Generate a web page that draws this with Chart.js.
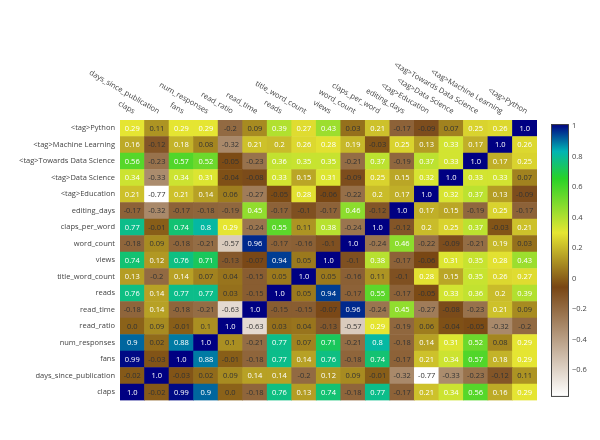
<!DOCTYPE html>
<html lang="en">
<head>
<meta charset="UTF-8">
<title>Correlation heatmap</title>
<script src="https://cdn.jsdelivr.net/npm/chart.js"></script>
<style>
  html, body { margin: 0; padding: 0; background: #fff; }
  #wrap { width: 600px; height: 440px; }
</style>
</head>
<body>
<div id="wrap"><canvas id="chart"></canvas></div>
<script>
// variables, same order on x (left to right) and y (bottom to top)
const variables = ["claps", "days_since_publication", "fans", "num_responses", "read_ratio",
  "read_time", "reads", "title_word_count", "views", "word_count", "claps_per_word",
  "editing_days", "<tag>Education", "<tag>Data Science", "<tag>Towards Data Science",
  "<tag>Machine Learning", "<tag>Python"];

// one row of the correlation matrix per variable
const claps          = [1.0, -0.02, 0.99, 0.9, 0.0, -0.18, 0.76, 0.13, 0.74, -0.18, 0.77, -0.17, 0.21, 0.34, 0.56, 0.16, 0.29];
const daysSincePub   = [-0.02, 1.0, -0.03, 0.02, 0.09, 0.14, 0.14, -0.2, 0.12, 0.09, -0.01, -0.32, -0.77, -0.33, -0.23, -0.12, 0.11];
const fans           = [0.99, -0.03, 1.0, 0.88, -0.01, -0.18, 0.77, 0.14, 0.76, -0.18, 0.74, -0.17, 0.21, 0.34, 0.57, 0.18, 0.29];
const numResponses   = [0.9, 0.02, 0.88, 1.0, 0.1, -0.21, 0.77, 0.07, 0.71, -0.21, 0.8, -0.18, 0.14, 0.31, 0.52, 0.08, 0.29];
const readRatio      = [0.0, 0.09, -0.01, 0.1, 1.0, -0.63, 0.03, 0.04, -0.13, -0.57, 0.29, -0.19, 0.06, -0.04, -0.05, -0.32, -0.2];
const readTime       = [-0.18, 0.14, -0.18, -0.21, -0.63, 1.0, -0.15, -0.15, -0.07, 0.96, -0.24, 0.45, -0.27, -0.08, -0.23, 0.21, 0.09];
const reads          = [0.76, 0.14, 0.77, 0.77, 0.03, -0.15, 1.0, 0.05, 0.94, -0.17, 0.55, -0.17, -0.05, 0.33, 0.36, 0.2, 0.39];
const titleWordCount = [0.13, -0.2, 0.14, 0.07, 0.04, -0.15, 0.05, 1.0, 0.05, -0.16, 0.11, -0.1, 0.28, 0.15, 0.35, 0.26, 0.27];
const views          = [0.74, 0.12, 0.76, 0.71, -0.13, -0.07, 0.94, 0.05, 1.0, -0.1, 0.38, -0.17, -0.06, 0.31, 0.35, 0.28, 0.43];
const wordCount      = [-0.18, 0.09, -0.18, -0.21, -0.57, 0.96, -0.17, -0.16, -0.1, 1.0, -0.24, 0.46, -0.22, -0.09, -0.21, 0.19, 0.03];
const clapsPerWord   = [0.77, -0.01, 0.74, 0.8, 0.29, -0.24, 0.55, 0.11, 0.38, -0.24, 1.0, -0.12, 0.2, 0.25, 0.37, -0.03, 0.21];
const editingDays    = [-0.17, -0.32, -0.17, -0.18, -0.19, 0.45, -0.17, -0.1, -0.17, 0.46, -0.12, 1.0, 0.17, 0.15, -0.19, 0.25, -0.17];
const tagEducation   = [0.21, -0.77, 0.21, 0.14, 0.06, -0.27, -0.05, 0.28, -0.06, -0.22, 0.2, 0.17, 1.0, 0.32, 0.37, 0.13, -0.09];
const tagDataScience = [0.34, -0.33, 0.34, 0.31, -0.04, -0.08, 0.33, 0.15, 0.31, -0.09, 0.25, 0.15, 0.32, 1.0, 0.33, 0.33, 0.07];
const tagTDS         = [0.56, -0.23, 0.57, 0.52, -0.05, -0.23, 0.36, 0.35, 0.35, -0.21, 0.37, -0.19, 0.37, 0.33, 1.0, 0.17, 0.25];
const tagML          = [0.16, -0.12, 0.18, 0.08, -0.32, 0.21, 0.2, 0.26, 0.28, 0.19, -0.03, 0.25, 0.13, 0.33, 0.17, 1.0, 0.26];
const tagPython      = [0.29, 0.11, 0.29, 0.29, -0.2, 0.09, 0.39, 0.27, 0.43, 0.03, 0.21, -0.17, -0.09, 0.07, 0.25, 0.26, 1.0];

const rows = [claps, daysSincePub, fans, numResponses, readRatio, readTime, reads, titleWordCount,
  views, wordCount, clapsPerWord, editingDays, tagEducation, tagDataScience, tagTDS, tagML, tagPython];

const colorbarTicks = [1, 0.8, 0.6, 0.4, 0.2, 0, -0.2, -0.4, -0.6];

// reversed "earth" scale: navy at the top value, white at the bottom
const earth = [[0, [0, 0, 130]], [0.1, [0, 180, 180]], [0.2, [40, 210, 40]],
  [0.4, [230, 230, 50]], [0.6, [120, 70, 20]], [1, [255, 255, 255]]];

const zmin = Math.min(...rows.flat());
const zmax = Math.max(...rows.flat());

function colorFor(v) {
  const s = 1 - (v - zmin) / (zmax - zmin);
  for (let k = 1; k < earth.length; k++) {
    if (s <= earth[k][0]) {
      const [s0, c0] = earth[k - 1], [s1, c1] = earth[k];
      const f = (s - s0) / (s1 - s0);
      const c = c0.map((a, n) => Math.round(a + (c1[n] - a) * f));
      return `rgb(${c[0]},${c[1]},${c[2]})`;
    }
  }
  return "rgb(255,255,255)";
}

function fmt(v) {
  return Number.isInteger(v) ? v.toFixed(1) : String(v);
}

const FONT = "'Open Sans', 'DejaVu Sans', sans-serif";

const cellText = {
  id: "cellText",
  afterDatasetsDraw(chart) {
    const ctx = chart.ctx;
    ctx.save();
    ctx.font = `7.5px ${FONT}`;
    ctx.textAlign = "center";
    ctx.textBaseline = "middle";
    rows.forEach((row, i) => {
      chart.getDatasetMeta(i).data.forEach((bar, j) => {
        const v = row[j];
        ctx.fillStyle = v > (zmin + zmax) / 2 ? "#ffffff" : "#333333";
        ctx.fillText(fmt(v), bar.x, (bar.y + bar.base) / 2 + 0.5);
      });
    });
    ctx.restore();
  }
};

const topLabels = {
  id: "topLabels",
  afterDraw(chart) {
    const ctx = chart.ctx, xs = chart.scales.x, top = chart.chartArea.top;
    ctx.save();
    ctx.font = `7.5px ${FONT}`;
    ctx.fillStyle = "#444";
    ctx.textAlign = "right";
    ctx.textBaseline = "middle";
    variables.forEach((name, j) => {
      ctx.save();
      ctx.translate(xs.getPixelForValue(j) + 2, top - 8);
      ctx.rotate(Math.PI / 6);
      ctx.fillText(name, 0, 0);
      ctx.restore();
    });
    ctx.restore();
  }
};

const colorbar = {
  id: "colorbar",
  afterDraw(chart) {
    const ctx = chart.ctx, cb = chart.scales.cb;
    const y0 = cb.getPixelForValue(zmax) - 2, y1 = cb.getPixelForValue(zmin);
    const x0 = cb.left + 14, w = 17;
    const g = ctx.createLinearGradient(0, y0, 0, y1);
    earth.forEach(([s, c]) => g.addColorStop(s, `rgb(${c[0]},${c[1]},${c[2]})`));
    ctx.save();
    ctx.fillStyle = g;
    ctx.fillRect(x0, y0, w, y1 - y0);
    ctx.strokeStyle = "#444";
    ctx.lineWidth = 1;
    ctx.strokeRect(x0 + 0.5, y0 + 0.5, w, y1 - y0);
    ctx.restore();
  }
};

new Chart(document.getElementById("chart"), {
  type: "bar",
  data: {
    labels: variables,
    datasets: rows.map((row, i) => ({
      label: variables[i],
      data: row.map(() => 1),
      backgroundColor: row.map(colorFor),
      borderWidth: 0,
      barPercentage: 1,
      categoryPercentage: 1
    }))
  },
  options: {
    responsive: true,
    maintainAspectRatio: false,
    animation: false,
    layout: { padding: { top: 120, bottom: 8, left: 0, right: 0 } },
    plugins: { legend: { display: false }, tooltip: { enabled: false } },
    scales: {
      x: { stacked: true, display: false },
      y: {
        stacked: true, min: 0, max: variables.length,
        grid: { display: false, drawTicks: false }, border: { display: false },
        afterBuildTicks: axis => { axis.ticks = variables.map((_, i) => ({ value: i + 0.5 })); },
        afterFit: axis => { axis.width = 120; },
        ticks: {
          padding: 5, color: "#444", font: { family: FONT, size: 7.5 },
          autoSkip: false,
          callback: v => variables[Math.floor(v)]
        }
      },
      cb: {
        type: "linear", position: "right", min: -0.8, max: 1.04,
        grid: { display: false, drawTicks: false }, border: { display: false },
        afterBuildTicks: axis => { axis.ticks = colorbarTicks.map(v => ({ value: v })); },
        afterFit: axis => { axis.width = 63; },
        ticks: {
          padding: 35, color: "#444", font: { family: FONT, size: 7.5 },
          callback: v => v < 0 ? "\u2212" + Math.abs(v) : String(v)
        }
      }
    }
  },
  plugins: [cellText, topLabels, colorbar]
});
</script>
</body>
</html>
